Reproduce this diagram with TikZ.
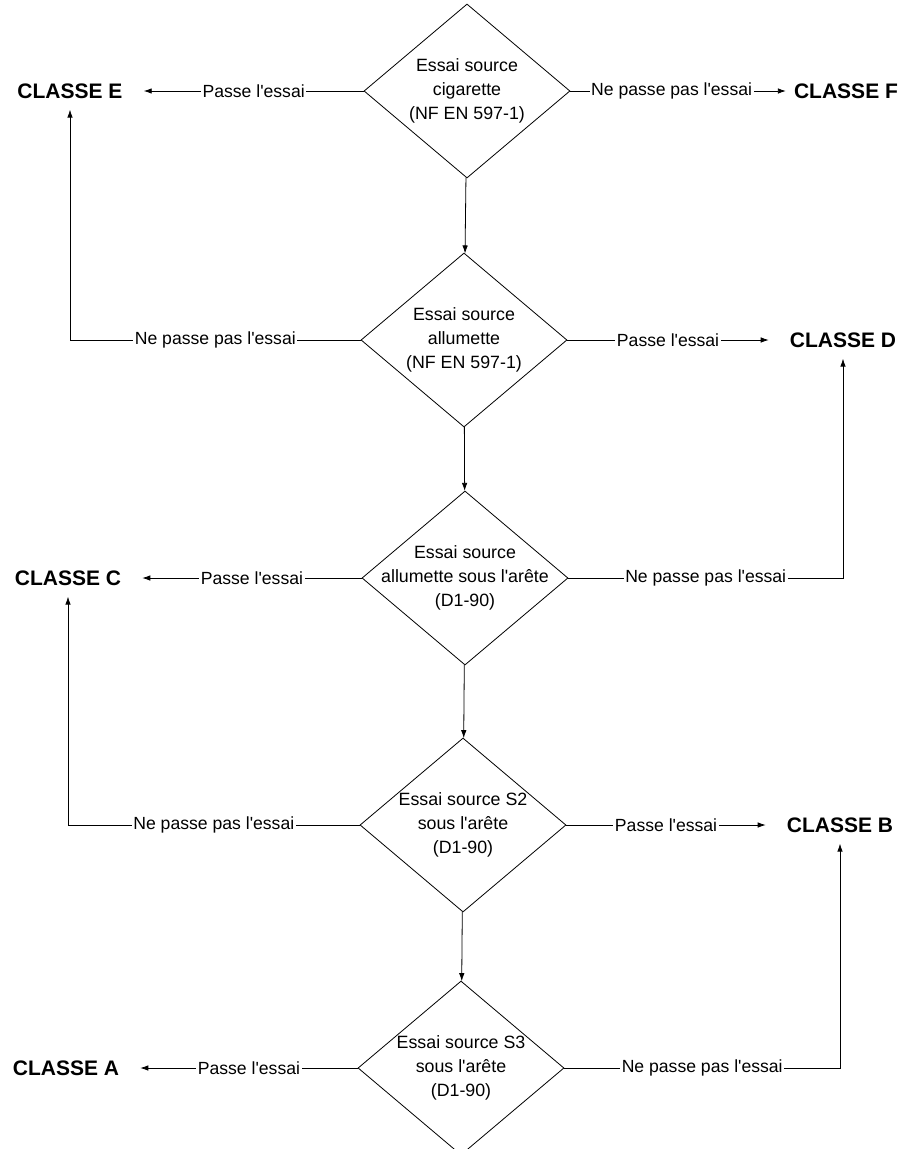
\documentclass[tikz,border=0pt]{standalone}
\usepackage{fontspec}
\setmainfont{Liberation Sans}
\usetikzlibrary{shapes.geometric,arrows.meta}
\newcommand{\ap}{\textquotesingle}
\tikzstyle{decision} = [diamond, draw=black, line width=0.8pt, inner sep=-20pt, minimum width=206pt, minimum height=174pt, align=center, font=\fontsize{17.8}{24}\selectfont]
\tikzstyle{classe} = [inner xsep=21pt, inner ysep=11pt, font=\fontsize{21}{24}\selectfont\bfseries]

\begin{document}
\begin{tikzpicture}[x=1pt,y=-1pt]
	\tikzset{lbl/.style={fill=white, inner sep=1.5pt, font=\fontsize{17.6}{20}\selectfont},
		link/.style={draw, line width=0.8pt, -{Latex[length=8pt,width=5.5pt]}}}
	\useasboundingbox (0,0) rectangle (903,1149);
	% les essais
	\node[decision] (cig) at (467,91) {Essai source\\cigarette\\(NF EN 597-1)};
	\node[decision] (all) at (464,340) {Essai source\\allumette\\(NF EN 597-1)};
	\node[decision] (arete) at (465,578) {Essai source\\allumette sous l\ap arête\\(D1-90)};
	\node[decision] (sdeux) at (463,825) {Essai source S2\\sous l\ap arête\\(D1-90)};
	\node[decision] (strois) at (461,1068) {Essai source S3\\sous l\ap arête\\(D1-90)};
	% les classes
	\node[classe] (clE) at (70,91) {CLASSE E};
	\node[classe] (clF) at (846,91) {CLASSE F};
	\node[classe] (clD) at (843,340) {CLASSE D};
	\node[classe] (clC) at (68,578) {CLASSE C};
	\node[classe] (clB) at (840,825) {CLASSE B};
	\node[classe] (clA) at (66,1068) {CLASSE A};
	% suite des essais
	\draw[link] (cig) -- (all);
	\draw[link] (all) -- (arete);
	\draw[link] (arete) -- (sdeux);
	\draw[link] (sdeux) -- (strois);
	% sorties
	\draw[link] (cig.west) -- node[lbl]{Passe l\ap essai} (clE.east);
	\draw[link, shorten >=-13pt] (cig.east) -- node[lbl]{Ne passe pas l\ap essai} (clF.west);
	\draw[link] (all.west) -| node[lbl, pos=0.25]{Ne passe pas l\ap essai} (clE.south);
	\draw[link] (all.east) -- node[lbl]{Passe l\ap essai} (clD.west);
	\draw[link] (arete.west) -- node[lbl]{Passe l\ap essai} (clC.east);
	\draw[link] (arete.east) -| node[lbl, pos=0.25]{Ne passe pas l\ap essai} (clD.south);
	\draw[link] (sdeux.west) -| node[lbl, pos=0.25]{Ne passe pas l\ap essai} (clC.south);
	\draw[link] (sdeux.east) -- node[lbl]{Passe l\ap essai} (clB.west);
	\draw[link] (strois.west) -- node[lbl]{Passe l\ap essai} (clA.east);
	\draw[link] (strois.east) -| node[lbl, pos=0.25]{Ne passe pas l\ap essai} (clB.south);
\end{tikzpicture}
\end{document}
